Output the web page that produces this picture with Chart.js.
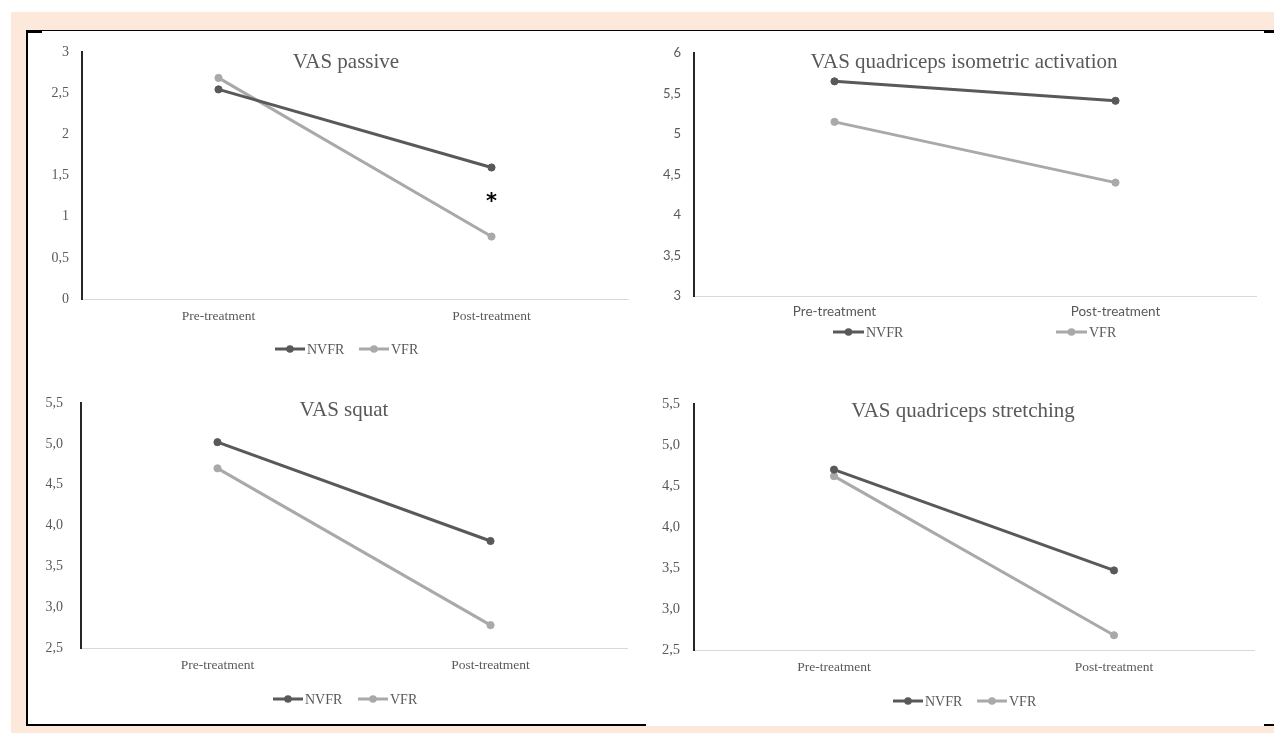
<!DOCTYPE html>
<html lang="en">
<head>
    <meta charset="UTF-8">
    <title>VAS scores NVFR vs VFR</title>
    <script src="https://cdn.jsdelivr.net/npm/chart.js"></script>
    <style>
        body {
            margin: 0;
            background: #ffffff;
            width: 1274px;
            height: 733px;
            overflow: hidden;
            position: relative;
        }
        .abs { position: absolute; }
        #peach { left: 11px; top: 12px; width: 1263px; height: 721px; background: #fde9db; }
        #sheet { left: 26px; top: 30px; width: 1248px; height: 696px; background: #ffffff; }
        .rule { background: #000; }
        canvas { position: absolute; }
    </style>
</head>
<body>
    <div id="peach" class="abs"></div>
    <div id="sheet" class="abs"></div>
    <div class="abs rule" style="left:26px; top:30px; width:1248px; height:1px;"></div>
    <div class="abs rule" style="left:26px; top:30px; width:16px; height:3px;"></div>
    <div class="abs rule" style="left:1264px; top:30px; width:10px; height:3px;"></div>
    <div class="abs rule" style="left:26px; top:30px; width:2px; height:696px;"></div>
    <div class="abs rule" style="left:26px; top:724px; width:620px; height:2px;"></div>
    <div class="abs rule" style="left:1264px; top:724px; width:10px; height:2px;"></div>

    <canvas id="passive" width="630" height="345" style="left:27px; top:31px;"></canvas>
    <canvas id="isometric" width="617" height="345" style="left:657px; top:31px;"></canvas>
    <canvas id="squat" width="630" height="349" style="left:27px; top:376px;"></canvas>
    <canvas id="stretching" width="617" height="349" style="left:657px; top:376px;"></canvas>

    <script>
        // data
        const categories = ['Pre-treatment', 'Post-treatment'];
        const seriesNames = ['NVFR', 'VFR'];

        const passiveNVFR = [2.55, 1.60];
        const passiveVFR = [2.69, 0.76];

        const isometricNVFR = [5.65, 5.41];
        const isometricVFR = [5.15, 4.40];

        const squatNVFR = [5.02, 3.81];
        const squatVFR = [4.70, 2.78];

        const stretchingNVFR = [4.70, 3.47];
        const stretchingVFR = [4.62, 2.68];

        // significance marker on VAS passive (post-treatment)
        const passiveStar = { index: 1, value: 1.245 };

        const DARK = '#595959';
        const LIGHT = '#a9a9a9';
        const SERIF = '"Liberation Serif", "Times New Roman", serif';
        const SANS = 'Lato, "Open Sans", sans-serif';

        const commaShort = v => String(v).replace('.', ',');
        const commaFixed = v => v.toFixed(1).replace('.', ',');

        // title, legend and asterisk drawn on top of the chart
        const decor = {
            id: 'decor',
            afterDraw(chart, args, opts) {
                const ctx = chart.ctx;
                ctx.save();
                ctx.fillStyle = DARK;
                ctx.font = '21px ' + SERIF;
                ctx.textAlign = 'center';
                ctx.textBaseline = 'middle';
                ctx.fillText(opts.title, opts.titleX, opts.titleY);

                chart.data.datasets.forEach((ds, i) => {
                    const x0 = opts.legendStarts[i];
                    const y = opts.legendY;
                    const len = opts.legendLine;
                    ctx.strokeStyle = ds.borderColor;
                    ctx.lineWidth = 3;
                    ctx.beginPath();
                    ctx.moveTo(x0, y);
                    ctx.lineTo(x0 + len, y);
                    ctx.stroke();
                    ctx.fillStyle = ds.borderColor;
                    ctx.beginPath();
                    ctx.arc(x0 + len / 2, y, 3.8, 0, Math.PI * 2);
                    ctx.fill();
                    ctx.fillStyle = DARK;
                    ctx.font = '14px ' + SERIF;
                    ctx.textAlign = 'left';
                    ctx.fillText(ds.label, x0 + len + 2, y + 1);
                });

                if (opts.star) {
                    const sx = chart.scales.x.getPixelForValue(opts.star.index);
                    const sy = chart.scales.y.getPixelForValue(opts.star.value);
                    ctx.fillStyle = '#000';
                    ctx.font = 'bold 21px "DejaVu Sans", sans-serif';
                    ctx.textAlign = 'center';
                    ctx.textBaseline = 'alphabetic';
                    const m = ctx.measureText('*');
                    const mid = (m.actualBoundingBoxAscent - m.actualBoundingBoxDescent) / 2;
                    ctx.fillText('*', sx, sy + mid);
                }
                ctx.restore();
            }
        };

        function buildPanel(id, nvfr, vfr, o) {
            const ctx = document.getElementById(id).getContext('2d');
            return new Chart(ctx, {
                type: 'line',
                data: {
                    labels: categories,
                    datasets: [
                        { label: seriesNames[0], data: nvfr, borderColor: DARK, backgroundColor: DARK },
                        { label: seriesNames[1], data: vfr, borderColor: LIGHT, backgroundColor: LIGHT }
                    ]
                },
                plugins: [decor],
                options: {
                    responsive: false,
                    animation: false,
                    devicePixelRatio: 1,
                    layout: { padding: { left: 0, right: o.padRight, top: o.padTop, bottom: 0 } },
                    elements: {
                        line: { borderWidth: 3, tension: 0 },
                        point: { radius: 3.6, borderWidth: 1, hoverRadius: 3.6 }
                    },
                    plugins: {
                        legend: { display: false },
                        title: { display: false },
                        tooltip: { enabled: false },
                        decor: {
                            title: o.title,
                            titleX: o.titleX,
                            titleY: o.titleY,
                            legendY: o.legendY,
                            legendStarts: o.legendStarts,
                            legendLine: o.legendLine,
                            star: o.star || null
                        }
                    },
                    scales: {
                        x: {
                            offset: true,
                            grid: { display: false, drawTicks: false },
                            border: { display: true, color: '#d9d9d9', width: 1 },
                            ticks: { color: DARK, font: o.xFont, padding: o.xPad, maxRotation: 0 },
                            afterFit: s => { s.height = o.xHeight; }
                        },
                        y: {
                            min: o.yMin,
                            max: o.yMax,
                            grid: { display: false, drawTicks: false },
                            border: { display: true, color: '#262626', width: 2 },
                            ticks: {
                                stepSize: 0.5,
                                color: DARK,
                                font: o.yFont,
                                padding: o.yPad,
                                callback: o.fmt
                            },
                            afterFit: s => { s.width = o.yWidth; }
                        }
                    }
                }
            });
        }

        buildPanel('passive', passiveNVFR, passiveVFR, {
            title: 'VAS passive', titleX: 319, titleY: 31,
            yMin: 0, yMax: 3, fmt: commaShort,
            yFont: { family: SERIF, size: 14 }, xFont: { family: SERIF, size: 13.5 },
            yWidth: 55, yPad: 13, xHeight: 77, xPad: 9,
            padRight: 29, padTop: 21,
            legendY: 318, legendStarts: [248, 332], legendLine: 30,
            star: passiveStar
        });

        buildPanel('isometric', isometricNVFR, isometricVFR, {
            title: 'VAS quadriceps isometric activation', titleX: 307, titleY: 31,
            yMin: 3, yMax: 6, fmt: commaShort,
            yFont: { family: SANS, size: 13 }, xFont: { family: SANS, size: 13.5 },
            yWidth: 37, yPad: 13, xHeight: 80, xPad: 8,
            padRight: 18, padTop: 22,
            legendY: 301, legendStarts: [176, 399], legendLine: 31
        });

        buildPanel('squat', squatNVFR, squatVFR, {
            title: 'VAS squat', titleX: 317, titleY: 34,
            yMin: 2.5, yMax: 5.5, fmt: commaFixed,
            yFont: { family: SERIF, size: 14 }, xFont: { family: SERIF, size: 13.5 },
            yWidth: 54, yPad: 18, xHeight: 77, xPad: 9,
            padRight: 30, padTop: 27,
            legendY: 323, legendStarts: [246, 331], legendLine: 30
        });

        buildPanel('stretching', stretchingNVFR, stretchingVFR, {
            title: 'VAS quadriceps stretching', titleX: 306, titleY: 35,
            yMin: 2.5, yMax: 5.5, fmt: commaFixed,
            yFont: { family: SERIF, size: 14.5 }, xFont: { family: SERIF, size: 13.5 },
            yWidth: 37, yPad: 14, xHeight: 75, xPad: 9,
            padRight: 20, padTop: 28,
            legendY: 325, legendStarts: [236, 320], legendLine: 30
        });
    </script>
</body>
</html>
